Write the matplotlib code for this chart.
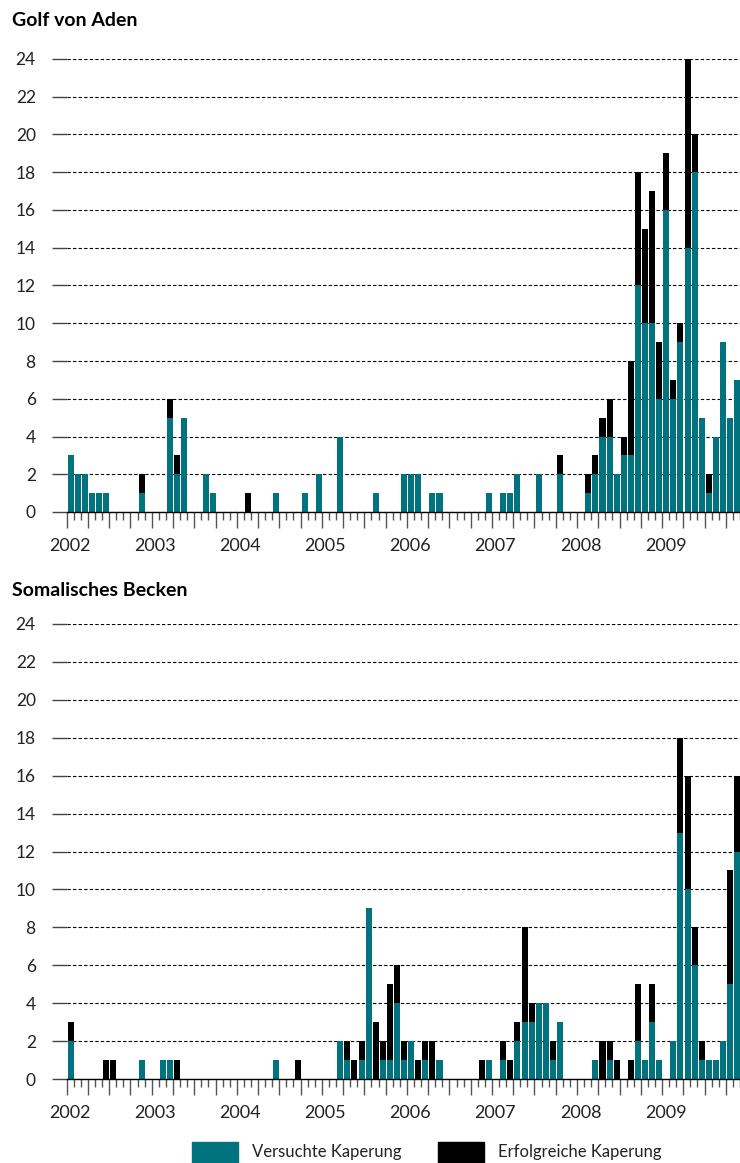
import numpy as np
import matplotlib
matplotlib.use('Agg')
import matplotlib.pyplot as plt
from matplotlib.patches import Rectangle

plt.rcParams['font.family'] = ['Lato', 'DejaVu Sans']

# Monatswerte Jan 2002 - Nov 2009 (versucht = teal, erfolgreich = schwarz)
jahre = [2002, 2003, 2004, 2005, 2006, 2007, 2008, 2009]

aden_versucht = (
    [3, 2, 2, 1, 1, 1, 0, 0, 0, 0, 1, 0] +
    [0, 0, 5, 2, 5, 0, 0, 2, 1, 0, 0, 0] +
    [0, 0, 0, 0, 0, 1, 0, 0, 0, 1, 0, 2] +
    [0, 0, 4, 0, 0, 0, 0, 1, 0, 0, 0, 2] +
    [2, 2, 0, 1, 1, 0, 0, 0, 0, 0, 0, 1] +
    [0, 1, 1, 2, 0, 0, 2, 0, 0, 2, 0, 0] +
    [0, 1, 2, 4, 4, 2, 3, 3, 12, 10, 10, 6] +
    [16, 6, 9, 14, 18, 5, 1, 4, 9, 5, 7])
aden_erfolg = (
    [0, 0, 0, 0, 0, 0, 0, 0, 0, 0, 1, 0] +
    [0, 0, 1, 1, 0, 0, 0, 0, 0, 0, 0, 0] +
    [0, 1, 0, 0, 0, 0, 0, 0, 0, 0, 0, 0] +
    [0, 0, 0, 0, 0, 0, 0, 0, 0, 0, 0, 0] +
    [0, 0, 0, 0, 0, 0, 0, 0, 0, 0, 0, 0] +
    [0, 0, 0, 0, 0, 0, 0, 0, 0, 1, 0, 0] +
    [0, 1, 1, 1, 2, 0, 1, 5, 6, 5, 7, 3] +
    [3, 1, 1, 10, 2, 0, 1, 0, 0, 0, 0])

somalia_versucht = (
    [2, 0, 0, 0, 0, 0, 0, 0, 0, 0, 1, 0] +
    [0, 1, 1, 0, 0, 0, 0, 0, 0, 0, 0, 0] +
    [0, 0, 0, 0, 0, 1, 0, 0, 0, 0, 0, 0] +
    [0, 0, 2, 1, 0, 1, 9, 0, 1, 1, 4, 1] +
    [2, 0, 1, 0, 1, 0, 0, 0, 0, 0, 0, 1] +
    [0, 1, 0, 2, 3, 3, 4, 4, 1, 3, 0, 0] +
    [0, 0, 1, 0, 1, 0, 0, 0, 2, 1, 3, 1] +
    [0, 2, 13, 10, 6, 1, 1, 1, 2, 5, 12])
somalia_erfolg = (
    [1, 0, 0, 0, 0, 1, 1, 0, 0, 0, 0, 0] +
    [0, 0, 0, 1, 0, 0, 0, 0, 0, 0, 0, 0] +
    [0, 0, 0, 0, 0, 0, 0, 0, 1, 0, 0, 0] +
    [0, 0, 0, 1, 1, 1, 0, 3, 1, 4, 2, 1] +
    [0, 1, 1, 2, 0, 0, 0, 0, 0, 0, 1, 0] +
    [0, 1, 1, 1, 5, 1, 0, 0, 1, 0, 0, 0] +
    [0, 0, 0, 2, 1, 1, 0, 1, 3, 0, 2, 0] +
    [0, 0, 5, 6, 2, 1, 0, 0, 0, 6, 4])

teal = '#00737f'
W, H = 740, 1163

fig = plt.figure(figsize=(W / 100, H / 100), dpi=100)


def panel(ax, versucht, erfolg):
    x = np.arange(len(versucht)) + 0.6
    ax.bar(x, versucht, width=0.85, color=teal, linewidth=0)
    ax.bar(x, erfolg, width=0.85, bottom=versucht, color='black', linewidth=0)
    ax.set_xlim(0, 95)
    ax.set_ylim(0, 24)
    ax.set_yticks(range(0, 25, 2))
    ax.yaxis.grid(True, linestyle=(0, (3, 2)), color='black', linewidth=0.8)
    ax.set_axisbelow(True)
    for s in ['top', 'right', 'left']:
        ax.spines[s].set_visible(False)
    ax.spines['bottom'].set_linewidth(1.0)
    ax.tick_params(axis='y', length=10.8, width=1, color='#444', pad=11.5,
                   labelsize=12.5, labelcolor='#222')
    # Monatsstriche klein, Quartalsstriche lang
    ax.set_xticks(np.arange(0, 96, 3))
    ax.set_xticks(np.arange(0, 96, 1), minor=True)
    ax.set_xticklabels([])
    ax.tick_params(axis='x', which='major', length=11.5, width=1, color='#555')
    ax.tick_params(axis='x', which='minor', length=5.8, width=1, color='#555')
    for k, j in enumerate(jahre):
        ax.text(12 * k + 0.5, -0.075, str(j), transform=ax.get_xaxis_transform(),
                ha='center', va='center', fontsize=13, color='#222')


left = 66.7 / W
ax1 = fig.add_axes([left, 1 - 512 / H, 1 - left, 453 / H])
panel(ax1, aden_versucht, aden_erfolg)
ax2 = fig.add_axes([left, 1 - 1079 / H, 1 - left, 455 / H])
panel(ax2, somalia_versucht, somalia_erfolg)

fig.text(12 / W, 1 - 20 / H, 'Golf von Aden', fontsize=14, weight='bold', va='center')
fig.text(12 / W, 1 - 590 / H, 'Somalisches Becken', fontsize=14, weight='bold', va='center')

# Legende unten
fig.add_artist(Rectangle((192 / W, 0), 46 / W, 21 / H,
                         transform=fig.transFigure, color=teal))
fig.text(252 / W, 1 - 1152 / H, 'Versuchte Kaperung', fontsize=12, va='center', color='#222')
fig.add_artist(Rectangle((438 / W, 0), 46 / W, 21 / H,
                         transform=fig.transFigure, color='black'))
fig.text(498 / W, 1 - 1152 / H, 'Erfolgreiche Kaperung', fontsize=12, va='center', color='#222')

fig.savefig('out.png', dpi=100)
